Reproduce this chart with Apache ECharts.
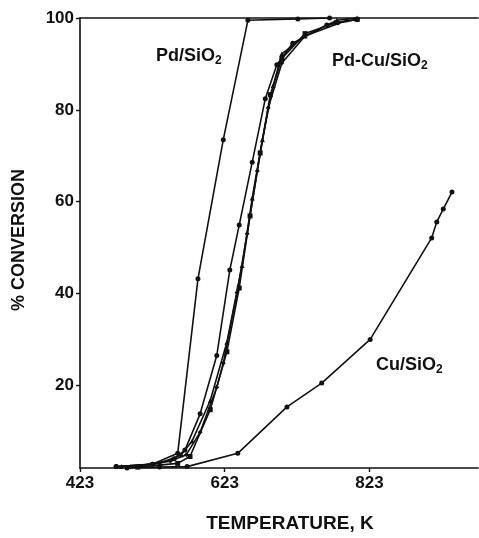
<!DOCTYPE html>
<html>
<head>
<meta charset="utf-8">
<script src="https://cdn.jsdelivr.net/npm/echarts@6/dist/echarts.min.js"></script>
<style>
  html, body { margin: 0; padding: 0; background: #fff; }
  #main { width: 479px; height: 538px; }
</style>
</head>
<body>
<div id="main"></div>
<script>
// temperature (K), % conversion
var pdSiO2 = [[473, 2.3], [523, 2.8], [558, 5.2], [586, 43.2], [621, 73.5], [655, 99.5], [724, 99.8], [768, 100]];

var pdCu1 = [[473, 2.3], [523, 2.8], [553, 4], [568, 5.9], [589, 13.8], [612, 26.5], [630, 45.1], [643, 54.9], [661, 68.6], [679, 82.4], [695, 89.8], [717, 94.5], [764, 98.5], [806, 99.7]];
var pdCu2 = [[480, 2.3], [533, 3], [563, 4.9], [578, 7.9], [603, 16.7], [626, 29.4], [647, 46.1], [661, 60.8], [675, 73.5], [690, 85.3], [702, 92.2], [734, 96.1], [778, 99.5], [806, 100]];
var pdCu3 = [[493, 2.2], [548, 3.5], [570, 4.9], [589, 9.8], [612, 19.6], [621, 24.8], [640, 40.2], [654, 53], [668, 66.7], [683, 80.4], [702, 90.2], [734, 96.1], [792, 99.5]];
var pdCu4 = [[503, 2.2], [558, 3], [575, 4.5], [603, 14.7], [626, 27.3], [643, 41.2], [658, 56.9], [672, 70.6], [686, 83.3], [702, 91.2], [734, 96.6], [778, 99], [806, 99.7]];

var cuSiO2 = [[488, 2], [533, 2.2], [571, 2.3], [641, 5.2], [709, 15.3], [757, 20.5], [824, 30], [909, 52.1], [916, 55.6], [925, 58.4], [937, 62.1]];

var xTicks = [423, 623, 823];
var yTicks = [20, 40, 60, 80, 100];

var black = '#111';
var font = 'Liberation Sans, Arial, sans-serif';
var labelFont = { color: black, fontWeight: 'bold', fontSize: 17, fontFamily: font };

function line(name, data, symbol) {
    return {
        name: name,
        type: 'line',
        data: data,
        symbol: symbol,
        symbolSize: 5,
        showSymbol: true,
        lineStyle: { color: black, width: 1.6 },
        itemStyle: { color: black },
        animation: false
    };
}

function tag(text, left, top) {
    return {
        type: 'text', left: left, top: top,
        style: {
            text: '{a|' + text + '}{s|2}',
            rich: {
                a: { fontSize: 18, fontWeight: 'bold', fill: black, fontFamily: font, lineHeight: 21 },
                s: { fontSize: 12, fontWeight: 'bold', fill: black, fontFamily: font, padding: [10, 0, 0, 0] }
            }
        }
    };
}

var myChart = echarts.init(document.getElementById('main'));

var option = {
    backgroundColor: '#fff',
    grid: { left: 80, right: 1, top: 18, bottom: 70 },
    xAxis: [{
        type: 'value',
        min: 423,
        max: 973,
        axisLine: { lineStyle: { color: black, width: 1.6 } },
        axisTick: { length: 4, customValues: xTicks, lineStyle: { color: black, width: 1.4 } },
        axisLabel: Object.assign({ customValues: xTicks, margin: 7 }, labelFont),
        splitLine: { show: false }
    }, {
        type: 'value',
        position: 'top',
        min: 423,
        max: 973,
        axisLine: { show: true, lineStyle: { color: black, width: 1.6 } },
        axisTick: { show: false },
        axisLabel: { show: false },
        splitLine: { show: false }
    }],
    yAxis: {
        type: 'value',
        min: 2,
        max: 100,
        axisLine: { show: true, lineStyle: { color: black, width: 1.6 } },
        axisTick: { show: true, length: 4, customValues: yTicks, lineStyle: { color: black, width: 1.4 } },
        axisLabel: Object.assign({ customValues: yTicks, margin: 6 }, labelFont),
        splitLine: { show: false }
    },
    series: [
        line('Pd/SiO2', pdSiO2, 'circle'),
        line('Pd-Cu/SiO2 a', pdCu1, 'circle'),
        line('Pd-Cu/SiO2 b', pdCu2, 'triangle'),
        line('Pd-Cu/SiO2 c', pdCu3, 'diamond'),
        line('Pd-Cu/SiO2 d', pdCu4, 'rect'),
        line('Cu/SiO2', cuSiO2, 'circle')
    ],
    graphic: [
        tag('Pd/SiO', 156, 47),
        tag('Pd-Cu/SiO', 332, 52),
        tag('Cu/SiO', 376, 356),
        {
            type: 'text', x: 290, y: 524,
            style: { text: 'TEMPERATURE, K', fontSize: 19, fontWeight: 'bold', fill: black, fontFamily: font, align: 'center', verticalAlign: 'middle' }
        },
        {
            type: 'text', x: 19, y: 240, rotation: Math.PI / 2,
            style: { text: '% CONVERSION', fontSize: 18, fontWeight: 'bold', fill: black, fontFamily: font, align: 'center', verticalAlign: 'middle' }
        }
    ]
};

myChart.setOption(option);
</script>
</body>
</html>
